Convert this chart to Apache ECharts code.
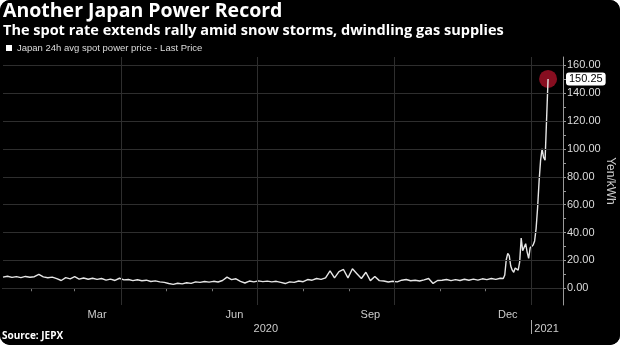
<!DOCTYPE html>
<html>
<head>
<meta charset="utf-8">
<script src="https://cdn.jsdelivr.net/npm/echarts@6/dist/echarts.min.js"></script>
<style>
html,body{margin:0;padding:0;background:#fff;}
#chart{width:620px;height:345px;border-radius:10px;overflow:hidden;background:#000;}
</style>
</head>
<body>
<div id="chart"></div>
<script>
const titleText = 'Another Japan Power Record';
const subtitleText = 'The spot rate extends rally amid snow storms, dwindling gas supplies';
const seriesName = 'Japan 24h avg spot power price - Last Price';
const sourceText = 'Source: JEPX';
const yAxisName = 'Yen/kWh';

const dates = [
 '2020-01-13','2020-01-16','2020-01-19','2020-01-22','2020-01-25','2020-01-28','2020-01-31',
 '2020-02-03','2020-02-06','2020-02-09','2020-02-12','2020-02-15','2020-02-18','2020-02-21','2020-02-24','2020-02-27',
 '2020-03-01','2020-03-04','2020-03-07','2020-03-10','2020-03-13','2020-03-16','2020-03-19','2020-03-22','2020-03-25','2020-03-28','2020-03-31',
 '2020-04-03','2020-04-06','2020-04-09','2020-04-12','2020-04-15','2020-04-18','2020-04-21','2020-04-24','2020-04-27','2020-04-30',
 '2020-05-03','2020-05-06','2020-05-09','2020-05-12','2020-05-15','2020-05-18','2020-05-21','2020-05-24','2020-05-27','2020-05-30',
 '2020-06-02','2020-06-05','2020-06-08','2020-06-11','2020-06-14','2020-06-17','2020-06-20','2020-06-23','2020-06-26','2020-06-29',
 '2020-07-02','2020-07-05','2020-07-08','2020-07-11','2020-07-14','2020-07-17','2020-07-20','2020-07-23','2020-07-26','2020-07-29',
 '2020-08-01','2020-08-04','2020-08-07','2020-08-10','2020-08-13','2020-08-16','2020-08-19','2020-08-22','2020-08-25','2020-08-28','2020-08-31',
 '2020-09-03','2020-09-06','2020-09-09','2020-09-12','2020-09-15','2020-09-18','2020-09-21','2020-09-24','2020-09-27','2020-09-30',
 '2020-10-03','2020-10-06','2020-10-09','2020-10-12','2020-10-15','2020-10-18','2020-10-21','2020-10-24','2020-10-27','2020-10-30',
 '2020-11-02','2020-11-05','2020-11-08','2020-11-11','2020-11-14','2020-11-17','2020-11-20','2020-11-23','2020-11-26','2020-11-29',
 '2020-12-02','2020-12-05','2020-12-08','2020-12-11','2020-12-12','2020-12-13','2020-12-14','2020-12-15','2020-12-16','2020-12-17',
 '2020-12-18','2020-12-19','2020-12-20','2020-12-21','2020-12-22','2020-12-23','2020-12-24','2020-12-25','2020-12-26','2020-12-27',
 '2020-12-28','2020-12-29','2020-12-30','2020-12-31','2021-01-01','2021-01-02','2021-01-03','2021-01-04','2021-01-05','2021-01-06',
 '2021-01-07','2021-01-08','2021-01-09','2021-01-10','2021-01-11','2021-01-12'
];
const prices = [
 8.0,8.6,7.8,8.4,7.6,8.5,7.9,
 8.3,10.0,8.2,7.6,8.0,6.9,5.6,7.6,6.8,
 8.3,6.6,7.4,6.5,7.2,6.4,7.0,5.9,6.6,5.6,7.2,
 6.0,6.3,5.5,6.1,5.4,5.8,4.9,5.3,4.6,4.2,
 3.4,2.8,3.6,3.2,4.0,3.5,4.6,4.2,4.9,4.4,
 5.0,4.5,5.6,8.0,6.2,6.8,5.0,3.8,5.2,4.6,
 5.3,4.8,5.1,4.6,5.0,4.2,3.4,4.6,4.2,5.2,
 4.7,6.3,5.8,7.0,6.4,7.5,12.5,7.5,12.0,13.5,7.5,
 14.0,10.5,7.0,11.5,5.5,8.5,5.5,5.2,4.5,5.0,
 4.6,5.8,6.3,5.4,5.8,5.2,6.0,7.0,3.5,5.6,
 5.8,6.3,5.5,6.2,5.6,6.5,5.8,6.6,5.9,6.8,
 6.2,7.0,6.4,7.2,6.6,7.0,9.5,20.5,25.0,23.5,
 16.0,13.0,11.5,14.5,13.5,13.0,19.0,36.0,27.0,26.5,
 32.0,26.0,21.5,29.0,28.5,31.0,34.0,43.0,58.0,77.0,
 92.0,100.0,94.0,92.0,121.0,150.25
];

const xMin = '2020-01-13';
const xMax = '2021-01-22';
const yMin = -12;
const yMax = 166;
const yLabelValues = [0,20,40,60,80,100,120,140,160];
const yTickValues = [0,10,20,30,40,50,60,70,80,90,100,110,120,130,140,150,160];
const monthTicks = ['2020-02-01','2020-03-01','2020-04-01','2020-05-01','2020-06-01','2020-07-01','2020-08-01','2020-09-01','2020-10-01','2020-11-01','2020-12-01','2021-01-01'];
const monthLabelPos = ['2020-03-16','2020-06-16','2020-09-15','2020-12-16'];
const monthLabelNames = ['Mar','Jun','Sep','Dec'];
const yearLabelPos = ['2020-07-07','2021-01-11'];
const yearLabelNames = ['2020','2021'];
const yearDivider = ['2021-01-01'];
const quarterLines = ['2020-04-01','2020-07-01','2020-10-01','2021-01-01'];

const NARROW = '"Liberation Sans Narrow", "Liberation Sans", sans-serif';
const BOLD = '"Open Sans", "Liberation Sans", sans-serif';

function ts(s){ return Date.parse(s + 'T00:00:00Z'); }
function nameAt(value, positions, names){
  for (let i = 0; i < positions.length; i++) {
    if (Math.abs(ts(positions[i]) - value) < 43200000) return names[i];
  }
  return '';
}

const seriesData = dates.map((d, i) => [ts(d), prices[i]]);
const lastIdx = prices.length - 1;

const chart = echarts.init(document.getElementById('chart'), null, {renderer: 'canvas'});
chart.setOption({
  backgroundColor: '#000',
  animation: false,
  title: [
    {text: titleText, left: 3, top: 1, padding: 0,
     textStyle: {color: '#fff', fontSize: 19.5, fontWeight: 'bold', fontFamily: BOLD}},
    {text: subtitleText, left: 3, top: 23, padding: 0,
     textStyle: {color: '#fff', fontSize: 14.5, fontWeight: 'bold', fontFamily: BOLD}},
    {text: sourceText, left: 2, top: 331, padding: 0,
     textStyle: {color: '#fff', fontSize: 10, fontWeight: 'bold', fontFamily: BOLD}}
  ],
  legend: {
    left: 6, top: 43, padding: 0, itemGap: 4,
    icon: 'rect', itemWidth: 6, itemHeight: 6,
    textStyle: {color: '#ddd', fontSize: 9.5, fontFamily: NARROW},
    data: [seriesName]
  },
  grid: {left: 3, right: 57, top: 57, bottom: 40, containLabel: false, outerBoundsMode: 'none'},
  xAxis: [
    {
      type: 'value', min: ts(xMin), max: ts(xMax), position: 'bottom',
      axisLine: {show: true, lineStyle: {color: '#777', width: 1}},
      axisTick: {show: true, customValues: monthTicks.map(ts), length: 3, lineStyle: {color: '#777'}},
      axisLabel: {show: true, customValues: monthLabelPos.map(ts), color: '#ccc', fontSize: 11, fontFamily: NARROW, margin: 4,
                  formatter: v => nameAt(v, monthLabelPos, monthLabelNames)},
      splitLine: {show: false}
    },
    {
      type: 'value', min: ts(xMin), max: ts(xMax), position: 'bottom', offset: 15,
      axisLine: {show: false},
      axisTick: {show: true, customValues: yearDivider.map(ts), length: 14, lineStyle: {color: '#aaa'}},
      axisLabel: {show: true, customValues: yearLabelPos.map(ts), color: '#ccc', fontSize: 11, fontFamily: NARROW, margin: 3,
                  formatter: v => nameAt(v, yearLabelPos, yearLabelNames)},
      splitLine: {show: false}
    }
  ],
  yAxis: {
    type: 'value', position: 'right', min: yMin, max: yMax,
    name: yAxisName, nameLocation: 'middle', nameRotate: -90, nameGap: 41, nameMoveOverlap: false,
    nameTextStyle: {color: '#ccc', fontSize: 12, fontFamily: NARROW},
    axisLine: {show: true, lineStyle: {color: '#999'}},
    axisTick: {show: true, customValues: yTickValues, length: 3, lineStyle: {color: '#999'}},
    axisLabel: {show: true, customValues: yLabelValues, color: '#ddd', fontSize: 11, fontFamily: NARROW, margin: 4,
                formatter: v => v.toFixed(2)},
    splitLine: {show: false},
    axisPointer: {
      show: true, status: 'show', value: prices[lastIdx], triggerTooltip: false,
      lineStyle: {color: 'rgba(0,0,0,0)', width: 0},
      label: {show: true, backgroundColor: '#fff', color: '#000', fontSize: 11, fontFamily: NARROW,
              padding: [1, 3, 1, 3], margin: 3, formatter: p => Number(p.value).toFixed(2)}
    }
  },
  series: [
    {
      name: 'grid', type: 'line', data: [], z: 1, silent: true,
      markLine: {
        silent: true, symbol: 'none', animation: false,
        label: {show: false},
        lineStyle: {color: '#2e2e2e', width: 1, type: 'solid'},
        data: yLabelValues.map(v => ({yAxis: v})).concat(quarterLines.map(d => ({xAxis: ts(d)})))
      }
    },
    {
      name: 'marker', type: 'scatter', z: 2, silent: true,
      data: [[ts(dates[lastIdx]), prices[lastIdx]]],
      symbol: 'circle', symbolSize: 18,
      itemStyle: {color: '#8e0f22', opacity: 0.95}
    },
    {
      name: seriesName, type: 'line', z: 3, data: seriesData,
      showSymbol: false, symbol: 'none',
      lineStyle: {color: '#e6e6e6', width: 1.4},
      itemStyle: {color: '#fff'}
    }
  ]
});
</script>
</body>
</html>
